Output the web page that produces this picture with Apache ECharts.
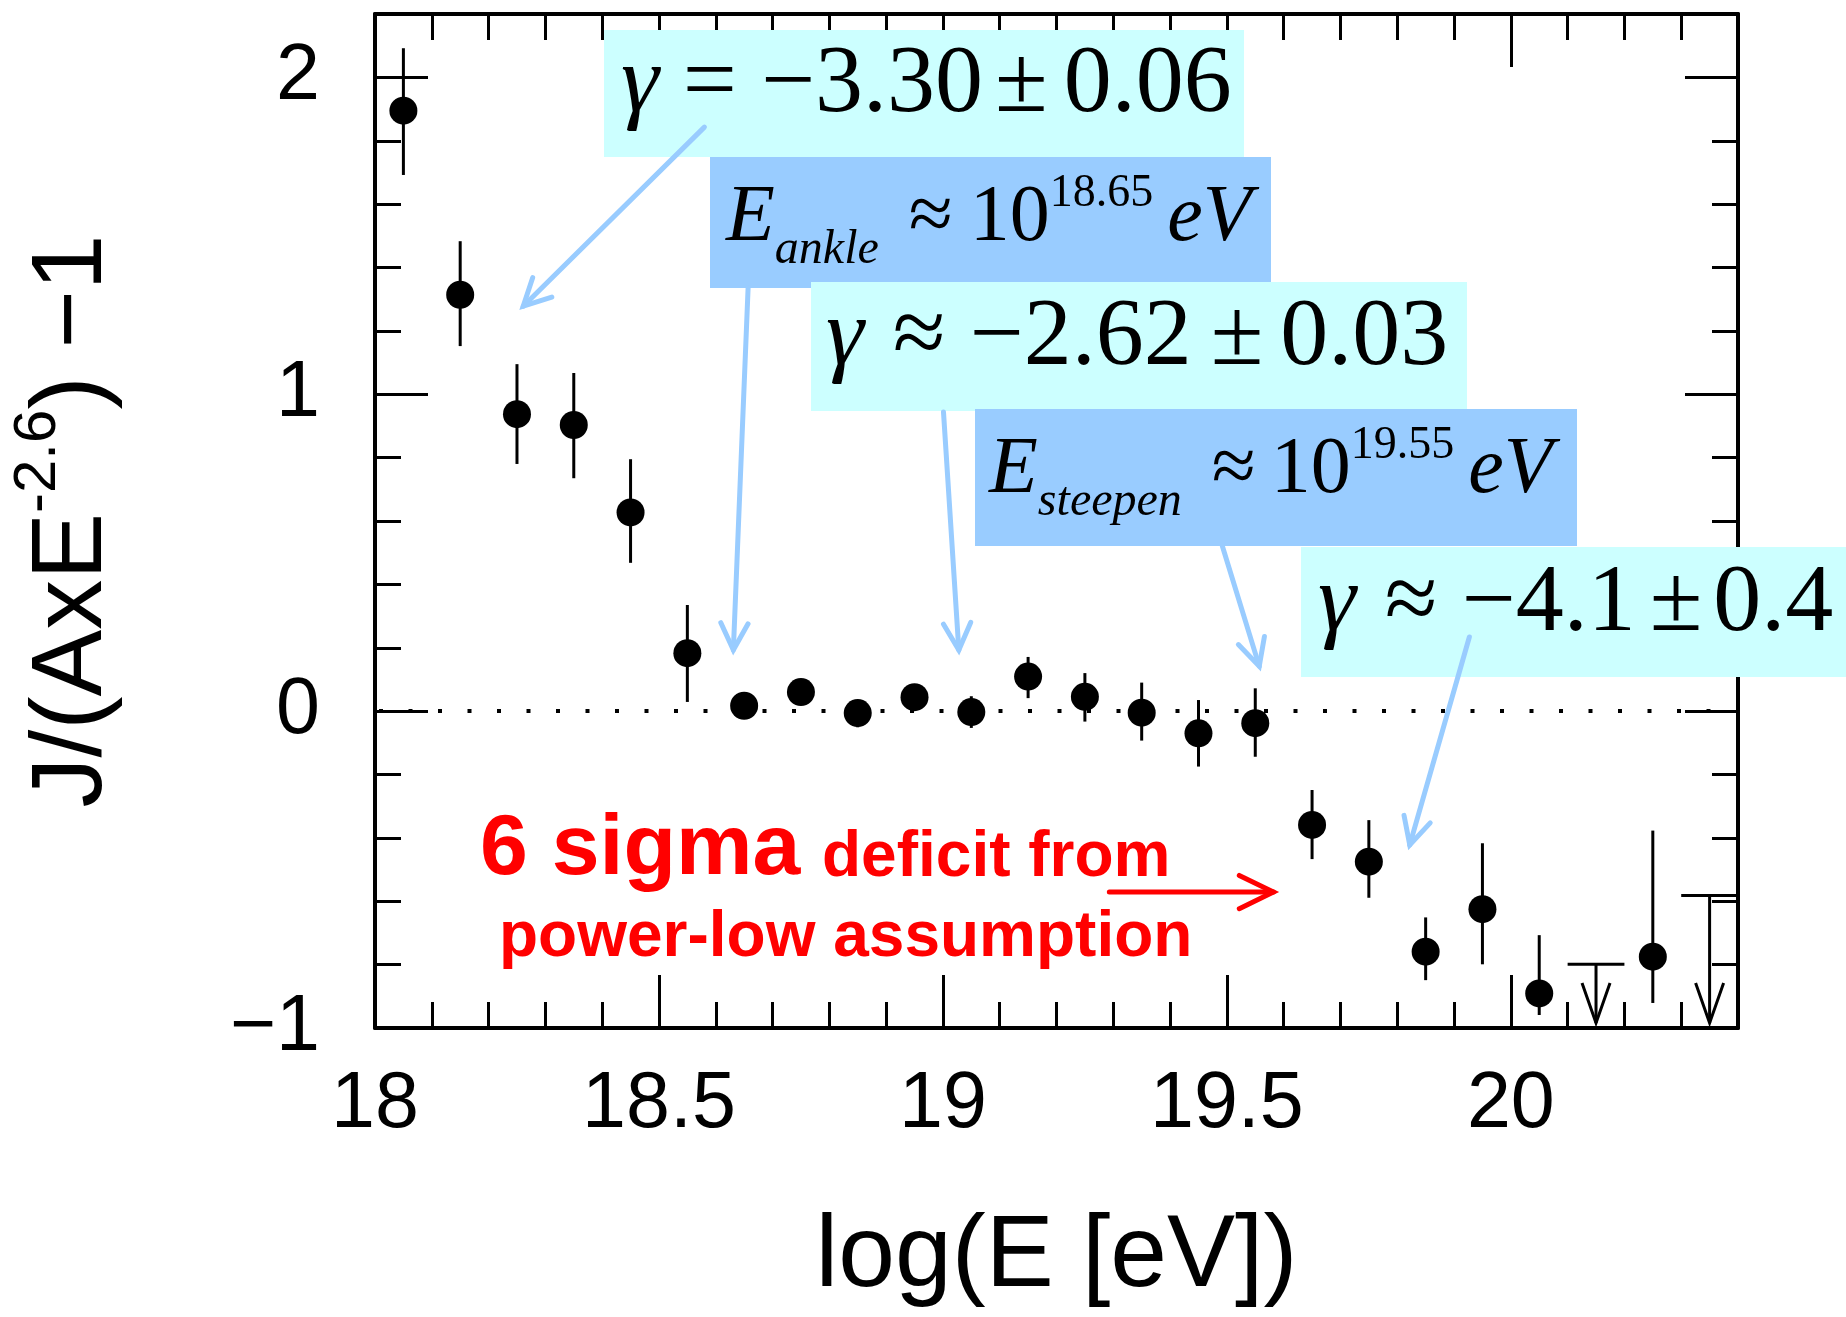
<!DOCTYPE html>
<html>
<head>
<meta charset="utf-8">
<title>Flux ratio vs energy</title>
<script src="https://cdn.jsdelivr.net/npm/echarts@6/dist/echarts.min.js"></script>
<style>
  html, body { margin: 0; padding: 0; background: #ffffff; }
  #chart { width: 1846px; height: 1317px; }
</style>
</head>
<body>
<div id="chart"></div>
<script>
// ---- measured spectrum: J/(A x E^-2.6) - 1 per log10(E) bin ----
const logE = [18.05, 18.15, 18.25, 18.35, 18.45, 18.55, 18.65, 18.75, 18.85, 18.95, 19.05,
              19.15, 19.25, 19.35, 19.45, 19.55, 19.65, 19.75, 19.85, 19.95, 20.05, 20.25];
const ratio = [1.895, 1.314, 0.937, 0.903, 0.627, 0.183, 0.017, 0.060, -0.006, 0.044, -0.003,
               0.109, 0.045, -0.005, -0.070, -0.038, -0.359, -0.475, -0.759, -0.625, -0.891, -0.775];
const errUpper = [2.092, 1.483, 1.095, 1.067, 0.795, 0.335, 0.052, 0.090, 0.024, 0.079, 0.047,
                  0.171, 0.120, 0.090, 0.035, 0.072, -0.249, -0.344, -0.651, -0.417, -0.707, -0.377];
const errLower = [1.692, 1.152, 0.780, 0.735, 0.468, 0.029, -0.018, 0.030, -0.051, 0.009, -0.053,
                  0.041, -0.033, -0.093, -0.175, -0.144, -0.467, -0.589, -0.849, -0.799, -0.959, -0.921];

// bins with upper limits only
const limitLogE = [20.15, 20.35];
const limitRatio = [-0.799, -0.582];

// axis ranges and tick steps
const xRange = [18, 20.4];
const yRange = [-1, 2.2];
const xMajorStep = 0.5, xMinorStep = 0.1;
const yMajorStep = 1, yMinorStep = 0.2;
const binWidth = 0.1;

// annotation arrows, [fromX, fromY, toX, toY] in axis units
const fitArrows = [
  [18.580, 1.843, 18.261, 1.278],
  [18.657, 1.337, 18.631, 0.193],
  [19.001, 0.944, 19.028, 0.193],
  [19.492, 0.521, 19.557, 0.142],
  [19.927, 0.234, 19.822, -0.422]
];
const deficitArrow = [[19.293, -0.571, 19.582, -0.571]];

const SANS = 'Liberation Sans';
const SERIF = 'Liberation Serif';
const BLACK = '#000000';
const CYAN = '#CCFFFF';
const BLUE = '#99CCFF';
const RED = '#FF0000';

const chart = echarts.init(document.getElementById('chart'), null, { renderer: 'canvas' });

function fmtX(v) { return String(Math.round(v * 10) / 10); }
function fmtY(v) { return v < 0 ? '\u2212' + Math.abs(v) : String(v); }

function xAxisDef(pos, step, tickLen, withLine, withLabel) {
  const ax = {
    type: 'value', position: pos, min: xRange[0], max: xRange[1], interval: step,
    axisLine: { show: withLine, onZero: false, lineStyle: { color: BLACK, width: 4 } },
    axisTick: { show: true, inside: true, length: tickLen, lineStyle: { color: BLACK, width: 3 } },
    axisLabel: { show: withLabel, margin: 38, fontSize: 79, fontFamily: SANS, color: BLACK,
                 showMaxLabel: false, formatter: fmtX },
    splitLine: { show: false }
  };
  if (withLabel) {
    ax.name = 'log(E [eV])';
    ax.nameLocation = 'middle';
    ax.nameGap = 179;
    ax.nameTextStyle = { fontSize: 102, fontFamily: SANS, color: BLACK, lineHeight: 102 };
  }
  return ax;
}

function yAxisDef(pos, step, tickLen, withLine, withLabel) {
  const ax = {
    type: 'value', position: pos, min: yRange[0], max: yRange[1], interval: step,
    axisLine: { show: withLine, onZero: false, lineStyle: { color: BLACK, width: 4 } },
    axisTick: { show: true, inside: true, length: tickLen, lineStyle: { color: BLACK, width: 3 } },
    axisLabel: { show: withLabel, margin: 55, fontSize: 79, fontFamily: SANS, color: BLACK,
                 showMaxLabel: false, formatter: fmtY },
    splitLine: { show: false }
  };
  if (withLabel) {
    ax.name = '{m|J/(AxE}{s|-2.6}{m|) \u22121}';
    ax.nameLocation = 'middle';
    ax.nameGap = 237;
    ax.nameRotate = 90;
    ax.nameTextStyle = {
      color: BLACK,
      rich: {
        m: { fontSize: 100, fontFamily: SANS, color: BLACK, lineHeight: 130, verticalAlign: 'middle' },
        s: { fontSize: 60, fontFamily: SANS, color: BLACK, verticalAlign: 'top', padding: [0, 0, 0, 0] }
      }
    };
  }
  return ax;
}

// arrow with an open V head, drawn in pixel space from axis-unit endpoints
function arrowRenderer(color, width, headLen, headAngle) {
  return function (params, api) {
    const p1 = api.coord([api.value(0), api.value(1)]);
    const p2 = api.coord([api.value(2), api.value(3)]);
    const ang = Math.atan2(p2[1] - p1[1], p2[0] - p1[0]);
    const a1 = ang + Math.PI - headAngle;
    const a2 = ang + Math.PI + headAngle;
    const h1 = [p2[0] + headLen * Math.cos(a1), p2[1] + headLen * Math.sin(a1)];
    const h2 = [p2[0] + headLen * Math.cos(a2), p2[1] + headLen * Math.sin(a2)];
    return {
      type: 'group',
      children: [
        { type: 'line', shape: { x1: p1[0], y1: p1[1], x2: p2[0], y2: p2[1] },
          style: { stroke: color, lineWidth: width, lineCap: 'round' } },
        { type: 'polyline', shape: { points: [h1, p2, h2] },
          style: { stroke: color, lineWidth: width, fill: null, lineCap: 'round', lineJoin: 'miter' } }
      ]
    };
  };
}

const errorData = logE.map((x, i) => [x, ratio[i], errLower[i], errUpper[i]]);
const pointData = logE.map((x, i) => [x, ratio[i]]);
const limitData = limitLogE.map((x, i) => [x, limitRatio[i]]);

// text boxes with the fitted slopes and break energies
const mainTok = { fontSize: 96, fontFamily: SERIF, fill: BLACK, lineHeight: 130, verticalAlign: 'middle' };
function gammaRich(pmPad, afterPad, opPad) {
  return {
    g: Object.assign({}, mainTok, { fontStyle: 'italic' }),
    t: Object.assign({}, mainTok, { padding: [0, 0, 0, opPad] }),
    pm: Object.assign({}, mainTok, { padding: [0, 0, 0, pmPad] }),
    t2: Object.assign({}, mainTok, { padding: [0, 0, 0, afterPad] })
  };
}
const eTok = { fontSize: 80, fontFamily: SERIF, fill: BLACK, lineHeight: 130, verticalAlign: 'middle' };
function energyRich(nPad) {
  return {
    E: Object.assign({}, eTok, { fontStyle: 'italic' }),
    sub: { fontSize: 48, fontFamily: SERIF, fontStyle: 'italic', fill: BLACK, verticalAlign: 'bottom', padding: [0, 0, 10, 0] },
    op: Object.assign({}, eTok, { padding: [0, 0, 0, 30] }),
    n: Object.assign({}, eTok, { padding: [0, 0, 0, nPad] }),
    sup: { fontSize: 46, fontFamily: SERIF, fill: BLACK, verticalAlign: 'top', padding: [16.5, 0, 0, 0] },
    ev: Object.assign({}, eTok, { fontStyle: 'italic', padding: [0, 0, 0, 14] })
  };
}

const graphics = [
  { type: 'rect', z: 50, shape: { x: 604, y: 30, width: 640, height: 127 }, style: { fill: CYAN } },
  { type: 'rect', z: 50, shape: { x: 710, y: 157, width: 561, height: 131 }, style: { fill: BLUE } },
  { type: 'rect', z: 50, shape: { x: 811, y: 282, width: 656, height: 129 }, style: { fill: CYAN } },
  { type: 'rect', z: 50, shape: { x: 975, y: 409, width: 602, height: 137 }, style: { fill: BLUE } },
  { type: 'rect', z: 50, shape: { x: 1301, y: 547, width: 545, height: 130 }, style: { fill: CYAN } },

  { type: 'text', z: 51, x: 621, y: 86, style: {
      text: '{g|\u03b3}{t| = \u22123.30}{pm|\u00b1}{t2|0.06}', rich: gammaRich(12, 16, 0),
      align: 'left', verticalAlign: 'middle', fontSize: 96, fontFamily: SERIF, fill: BLACK } },
  { type: 'text', z: 51, x: 726, y: 219, style: {
      text: '{E|E}{sub|ankle}{op|\u2248}{n|10}{sup|18.65}{ev|eV}', rich: energyRich(17),
      align: 'left', verticalAlign: 'middle', fontSize: 80, fontFamily: SERIF, fill: BLACK } },
  { type: 'text', z: 51, x: 826, y: 339, style: {
      text: '{g|\u03b3}{t| \u2248 \u22122.62}{pm|\u00b1}{t2|0.03}', rich: gammaRich(19, 17, 5),
      align: 'left', verticalAlign: 'middle', fontSize: 96, fontFamily: SERIF, fill: BLACK } },
  { type: 'text', z: 51, x: 989, y: 471, style: {
      text: '{E|E}{sub|steepen}{op|\u2248}{n|10}{sup|19.55}{ev|eV}', rich: energyRich(15),
      align: 'left', verticalAlign: 'middle', fontSize: 80, fontFamily: SERIF, fill: BLACK } },
  { type: 'text', z: 51, x: 1318, y: 605, style: {
      text: '{g|\u03b3}{t| \u2248 \u22124.1}{pm|\u00b1}{t2|0.4}', rich: gammaRich(14, 11, 5),
      align: 'left', verticalAlign: 'middle', fontSize: 96, fontFamily: SERIF, fill: BLACK } },

  { type: 'text', z: 51, x: 480, y: 850, style: {
      text: '6 sigma', fontSize: 86, fontWeight: 'bold', fontFamily: SANS, fill: RED,
      align: 'left', verticalAlign: 'middle' } },
  { type: 'text', z: 51, x: 822, y: 858, style: {
      text: 'deficit from', fontSize: 64, fontWeight: 'bold', fontFamily: SANS, fill: RED,
      align: 'left', verticalAlign: 'middle' } },
  { type: 'text', z: 51, x: 499, y: 938, style: {
      text: 'power-low assumption', fontSize: 64, fontWeight: 'bold', fontFamily: SANS, fill: RED,
      align: 'left', verticalAlign: 'middle' } }
];

const option = {
  animation: false,
  backgroundColor: '#ffffff',
  grid: { left: 375, right: 108, top: 14, bottom: 289, containLabel: false, outerBoundsMode: 'none' },
  xAxis: [
    xAxisDef('bottom', xMajorStep, 53, true, true),
    xAxisDef('bottom', xMinorStep, 26, false, false),
    xAxisDef('top', xMajorStep, 53, true, false),
    xAxisDef('top', xMinorStep, 26, false, false)
  ],
  yAxis: [
    yAxisDef('left', yMajorStep, 53, true, true),
    yAxisDef('left', yMinorStep, 26, false, false),
    yAxisDef('right', yMajorStep, 53, true, false),
    yAxisDef('right', yMinorStep, 26, false, false)
  ],
  graphic: { elements: graphics },
  series: [
    {
      name: 'errors', type: 'custom', z: 3, xAxisIndex: 0, yAxisIndex: 0,
      data: errorData, encode: { x: 0, y: 1 },
      renderItem: function (params, api) {
        const top = api.coord([api.value(0), api.value(3)]);
        const bot = api.coord([api.value(0), api.value(2)]);
        return { type: 'line', shape: { x1: top[0], y1: top[1], x2: bot[0], y2: bot[1] },
                 style: { stroke: BLACK, lineWidth: 3 } };
      }
    },
    {
      name: 'flux', type: 'scatter', z: 4, xAxisIndex: 0, yAxisIndex: 0,
      data: pointData, symbol: 'circle', symbolSize: 28,
      itemStyle: { color: BLACK, opacity: 1, borderWidth: 0 },
      emphasis: { disabled: true },
      markLine: {
        silent: true, symbol: ['none', 'none'], label: { show: false },
        lineStyle: { color: BLACK, width: 4, type: [4, 25.5], dashOffset: -4, opacity: 1 },
        emphasis: { disabled: true },
        data: [{ yAxis: 0 }]
      }
    },
    {
      name: 'upper limits', type: 'custom', z: 3, xAxisIndex: 0, yAxisIndex: 0, clip: true,
      data: limitData, encode: { x: 0, y: 1 },
      renderItem: function (params, api) {
        const c = api.coord([api.value(0), api.value(1)]);
        const hw = api.size([binWidth, 0])[0] / 2;
        const tipY = params.coordSys.y + params.coordSys.height - 5;
        const st = { stroke: BLACK, lineWidth: 3, fill: null };
        return {
          type: 'group',
          children: [
            { type: 'line', shape: { x1: c[0] - hw, y1: c[1], x2: c[0] + hw, y2: c[1] }, style: st },
            { type: 'line', shape: { x1: c[0], y1: c[1], x2: c[0], y2: tipY }, style: st },
            { type: 'polyline', shape: { points: [[c[0] - 14, tipY - 40], [c[0], tipY], [c[0] + 14, tipY - 40]] }, style: st }
          ]
        };
      }
    },
    {
      name: 'fit arrows', type: 'custom', z: 60, xAxisIndex: 0, yAxisIndex: 0, clip: false,
      data: fitArrows, encode: { x: [0, 2], y: [1, 3] },
      renderItem: arrowRenderer(BLUE, 5, 30, 27 * Math.PI / 180)
    },
    {
      name: 'deficit arrow', type: 'custom', z: 60, xAxisIndex: 0, yAxisIndex: 0, clip: false,
      data: deficitArrow, encode: { x: [0, 2], y: [1, 3] },
      renderItem: arrowRenderer(RED, 5, 38, 26 * Math.PI / 180)
    }
  ]
};

chart.setOption(option);
</script>
</body>
</html>
